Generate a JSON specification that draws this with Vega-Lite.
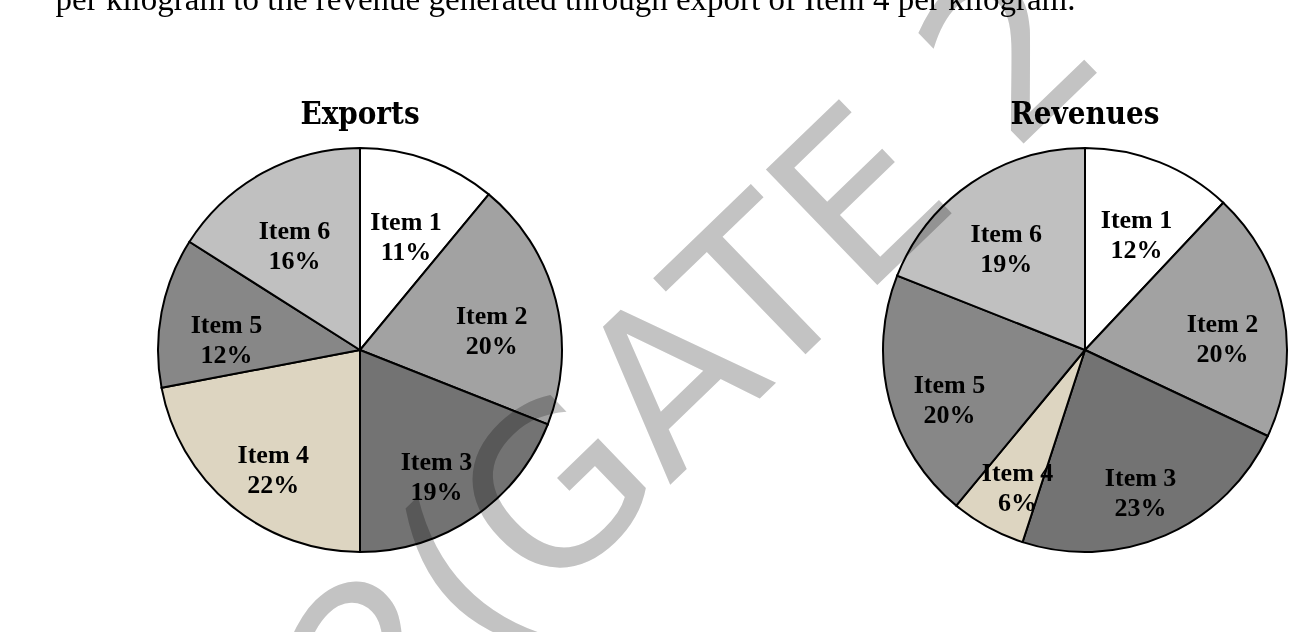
{
  "$schema": "https://vega.github.io/schema/vega-lite/v6.json",
  "autosize": {"type": "none"},
  "width": 1301,
  "height": 564,
  "padding": {"top": 68, "left": 0, "right": 0, "bottom": 0},
  "background": "white",
  "config": {"view": {"stroke": null}},
  "data": {
    "values": [
      {"chart": "Exports", "item": "Item 1", "share": 11},
      {"chart": "Exports", "item": "Item 2", "share": 20},
      {"chart": "Exports", "item": "Item 3", "share": 19},
      {"chart": "Exports", "item": "Item 4", "share": 22},
      {"chart": "Exports", "item": "Item 5", "share": 12},
      {"chart": "Exports", "item": "Item 6", "share": 16},
      {"chart": "Revenues", "item": "Item 1", "share": 12},
      {"chart": "Revenues", "item": "Item 2", "share": 20},
      {"chart": "Revenues", "item": "Item 3", "share": 23},
      {"chart": "Revenues", "item": "Item 4", "share": 6},
      {"chart": "Revenues", "item": "Item 5", "share": 20},
      {"chart": "Revenues", "item": "Item 6", "share": 19}
    ]
  },
  "transform": [
    {"calculate": "datum.item + '\\n' + datum.share + '%'", "as": "label"}
  ],
  "encoding": {
    "x": {
      "field": "chart",
      "type": "nominal",
      "scale": {"type": "point", "domain": ["Exports", "Revenues"], "range": [360, 1085], "padding": 0},
      "axis": null
    }
  },
  "layer": [
    {
      "transform": [{"filter": "datum.chart === 'Exports'"}],
      "mark": {"type": "arc", "outerRadius": 202, "stroke": "black", "strokeWidth": 2},
      "encoding": {
        "theta": {"field": "share", "type": "quantitative", "stack": true},
        "color": {
          "field": "item",
          "type": "nominal",
          "scale": {
            "domain": ["Item 1", "Item 2", "Item 3", "Item 4", "Item 5", "Item 6"],
            "range": ["#ffffff", "#a2a2a2", "#737373", "#ddd5c1", "#878787", "#c0c0c0"]
          },
          "legend": null
        }
      }
    },
    {
      "transform": [{"filter": "datum.chart === 'Revenues'"}],
      "mark": {"type": "arc", "outerRadius": 202, "stroke": "black", "strokeWidth": 2},
      "encoding": {
        "theta": {"field": "share", "type": "quantitative", "stack": true},
        "color": {"field": "item", "type": "nominal", "legend": null}
      }
    },
    {
      "transform": [{"filter": "datum.chart === 'Exports'"}],
      "mark": {"type": "text", "radius": 136, "lineBreak": "\n", "lineHeight": 30, "font": "Liberation Serif", "fontWeight": "bold", "fontSize": 26, "color": "black", "baseline": "middle"},
      "encoding": {
        "theta": {"field": "share", "type": "quantitative", "stack": true},
        "detail": {"field": "item", "type": "nominal"},
        "text": {"field": "label"}
      }
    },
    {
      "transform": [{"filter": "datum.chart === 'Revenues'"}],
      "mark": {"type": "text", "radius": 140, "lineBreak": "\n", "lineHeight": 30, "font": "Liberation Serif", "fontWeight": "bold", "fontSize": 26, "color": "black", "baseline": "middle"},
      "encoding": {
        "theta": {"field": "share", "type": "quantitative", "stack": true},
        "detail": {"field": "item", "type": "nominal"},
        "text": {"field": "label"}
      }
    },
    {
      "data": {"values": [{"chart": "Exports"}, {"chart": "Revenues"}]},
      "mark": {"type": "text", "dy": -226, "baseline": "alphabetic", "font": "DejaVu Serif Condensed", "fontWeight": "bold", "fontSize": 31, "color": "black"},
      "encoding": {"text": {"field": "chart"}}
    },
    {
      "data": {"values": [{"note": "per kilogram to the revenue generated through export of Item 4 per kilogram."}]},
      "mark": {"type": "text", "align": "center", "baseline": "alphabetic", "xOffset": -85, "yOffset": -340, "font": "Liberation Serif", "fontSize": 33, "color": "black"},
      "encoding": {"text": {"field": "note"}, "x": null}
    },
    {
      "data": {"values": [{"mark": "2(GATE 2"}]},
      "mark": {"type": "text", "angle": -44, "xOffset": 52, "yOffset": 12, "align": "center", "baseline": "middle", "font": "DejaVu Sans", "fontSize": 220, "color": "#c3c3c3", "blend": "multiply"},
      "encoding": {"text": {"field": "mark"}, "x": null}
    }
  ]
}
